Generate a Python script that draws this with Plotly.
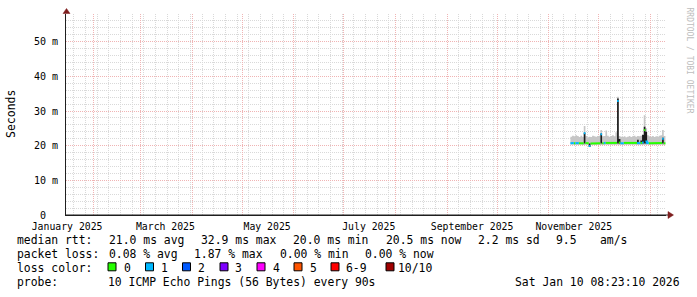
import plotly.graph_objects as go
import pandas as pd

# ---------------- data ----------------
x_start = "2025-01-15 08:23:10"
x_end = "2026-01-10 08:23:10"

days = pd.date_range("2025-11-14", periods=57, freq="D")

smoke_lo = [20.3, 20.3, 20.2, 20.3, 20.2, 20.3, 20.3, 20.2, 20.2, 20.3,
            20.2, 19.6, 20.2, 20.3, 20.2, 20.2, 20.3, 20.2, 20.2, 20.3,
            20.2, 20.3, 20.2, 20.3, 20.2, 20.3, 20.2, 20.3, 20.3, 20.2,
            20.3, 20.2, 20.3, 20.2, 20.3, 20.2, 20.3, 20.2, 20.3, 20.2,
            20.2, 20.3, 20.2, 20.2, 20.3, 20.2, 20.3, 20.2, 20.3, 20.2,
            20.3, 20.2, 20.3, 20.2, 20.3, 20.2, 20.3]
smoke_hi = [22.6, 22.9, 22.7, 23.0, 22.8, 22.5, 22.9, 22.6, 25.7, 22.8,
            22.4, 22.6, 22.5, 22.9, 22.7, 22.6, 22.8, 22.9, 24.5, 22.7,
            22.8, 24.4, 22.9, 22.6, 22.8, 23.0, 22.7, 23.9, 34.1, 22.8,
            22.6, 22.5, 22.7, 22.4, 22.6, 22.8, 22.5, 22.7, 22.9, 22.6,
            22.8, 22.7, 22.9, 23.4, 28.8, 25.0, 23.0, 22.7, 22.6, 22.8,
            22.5, 22.7, 22.6, 22.9, 23.0, 24.5, 22.8]
dark_lo = [20.6, 20.6, 20.6, 20.6, 20.6, 20.6, 20.6, 20.6, 20.6, 20.6,
           20.6, 19.6, 20.6, 20.6, 20.6, 20.6, 20.6, 20.6, 20.6, 20.6,
           20.6, 20.6, 20.6, 20.6, 20.6, 20.6, 20.6, 20.6, 20.6, 20.6,
           20.6, 20.6, 20.6, 20.6, 20.6, 20.6, 20.6, 20.6, 20.6, 20.6,
           20.6, 20.6, 20.6, 20.6, 20.6, 20.6, 20.6, 20.6, 20.6, 20.6,
           20.6, 20.6, 20.6, 20.6, 20.6, 20.6, 20.6]
dark_hi = [20.6, 20.6, 20.6, 20.6, 20.6, 20.6, 20.6, 20.6, 23.7, 20.6,
           20.6, 20.6, 20.6, 20.6, 20.6, 20.6, 20.6, 20.6, 23.5, 20.6,
           20.6, 20.6, 20.6, 20.6, 20.6, 20.6, 20.6, 20.6, 33.6, 21.9,
           20.6, 20.6, 20.6, 20.6, 20.6, 20.6, 20.6, 20.6, 20.6, 20.6,
           21.7, 20.6, 21.5, 23.1, 25.5, 24.0, 20.6, 20.6, 20.6, 20.6,
           20.6, 20.6, 20.6, 20.6, 20.6, 22.3, 20.6]
median = [20.7, 20.8, 20.7, 20.7, 20.8, 20.7, 20.8, 20.7, 23.6, 20.8,
          20.7, 19.9, 20.6, 20.7, 20.7, 20.8, 20.7, 20.7, 23.3, 20.7,
          20.8, 20.8, 20.7, 20.7, 20.7, 20.8, 20.7, 20.8, 32.9, 20.9,
          20.7, 20.7, 20.8, 20.7, 20.7, 20.7, 20.8, 20.7, 20.7, 20.8,
          20.8, 20.7, 20.8, 20.9, 24.5, 21.2, 20.8, 20.7, 20.7, 20.8,
          20.7, 20.7, 20.8, 20.7, 20.8, 22.0, 20.7]
loss = [1, 1, 0, 1, 1, 0, 0, 0, 1, 0,
        0, 1, 0, 0, 0, 0, 0, 0, 1, 0,
        1, 0, 0, 0, 0, 0, 0, 0, 1, 0,
        1, 1, 0, 0, 0, 0, 0, 0, 0, 0,
        1, 1, 0, 1, 0, 1, 1, 0, 0, 0,
        0, 0, 0, 0, 0, 1, 0]

loss_levels = [0, 1, 2, 3, 4, 5, 6, 10]
loss_labels = ["0", "1", "2", "3", "4", "5", "6-9", "10/10"]
loss_colors = ["#26ff00", "#00b8ff", "#0059ff", "#7e00ff",
               "#ff00ff", "#ff5500", "#ff0000", "#a00000"]

y_tickvals = [0, 10, 20, 30, 40, 50]
y_ticktext = ["0\u00a0\u00a0", "10 m", "20 m", "30 m", "40 m", "50 m"]
y_max = 58

label_dates = ["2025-01-16", "2025-03-16", "2025-05-16",
               "2025-07-16", "2025-09-16", "2025-11-16"]
label_text = ["January 2025", "March 2025", "May 2025",
              "July 2025", "September 2025", "November 2025"]
month_starts = ["2025-02-01", "2025-03-01", "2025-04-01", "2025-05-01",
                "2025-06-01", "2025-07-01", "2025-08-01", "2025-09-01",
                "2025-10-01", "2025-11-01", "2025-12-01", "2026-01-01"]

rtt_items = ["median rtt:", "21.0 ms avg", "32.9 ms max", "20.0 ms min",
             "20.5 ms now", "2.2 ms sd", "9.5", "am/s"]
loss_items = ["packet loss:", "0.08 % avg", "1.87 % max", "0.00 % min",
              "0.00 % now"]
color_title = "loss color:"
probe_items = ["probe:", "10 ICMP Echo Pings (56 Bytes) every 90s"]
stamp = "Sat Jan 10 08:23:10 2026"

# ---------------- layout geometry ----------------
W, H = 697, 297
L, R, T, B = 66, 31, 14, 82
PW = W - L - R
PH = H - T - B
MONO = "DejaVu Sans Mono"


def px(xp):
    return (xp - L) / PW


def py(yp):
    return (T + PH - yp) / PH


def nb(s):
    return s.replace(" ", "\u00a0")


one_day = pd.Timedelta(days=1)
edges = list(days) + [days[-1] + one_day]


def ext(a):
    return list(a) + [a[-1]]


fig = go.Figure()

# smoke (light) band
fig.add_trace(go.Scatter(x=edges, y=ext(smoke_lo), mode="lines",
                         line=dict(width=0, shape="hv"), hoverinfo="skip",
                         showlegend=False))
fig.add_trace(go.Scatter(x=edges, y=ext(smoke_hi), mode="lines",
                         line=dict(width=0, shape="hv"), fill="tonexty",
                         fillcolor="#c6c6c6", hoverinfo="skip",
                         showlegend=False))
# dark smoke core
fig.add_trace(go.Scatter(x=edges, y=ext(dark_lo), mode="lines",
                         line=dict(width=0, shape="hv"), hoverinfo="skip",
                         showlegend=False))
fig.add_trace(go.Scatter(x=edges, y=ext(dark_hi), mode="lines",
                         line=dict(width=0, shape="hv"), fill="tonexty",
                         fillcolor="#1c1c1c", hoverinfo="skip",
                         showlegend=False))


def level_of(n):
    if 6 <= n <= 9:
        return 6
    return n


for lvl, col in zip(loss_levels, loss_colors):
    xs, ys = [], []
    for i, d in enumerate(days):
        if level_of(loss[i]) != lvl:
            continue
        xs += [d, d + one_day]
        ys += [median[i], median[i]]
        nxt = level_of(loss[i + 1]) if i + 1 < len(days) else None
        if nxt != lvl:
            xs.append(None)
            ys.append(None)
    if xs:
        fig.add_trace(go.Scatter(x=xs, y=ys, mode="lines",
                                 line=dict(color=col, width=2),
                                 connectgaps=False, hoverinfo="skip",
                                 showlegend=False))

# dummy trace for the month-start grid axis
fig.add_trace(go.Scatter(x=[x_start, x_end], y=[0, 0], xaxis="x2",
                         mode="lines", line=dict(width=0), opacity=0,
                         hoverinfo="skip", showlegend=False))

minor_grid = "#d9d9d9"
major_grid = "#f0b4b4"
axis_col = "#1f1f1f"
arrow_col = "#7f1f1f"

fig.update_layout(
    width=W, height=H,
    margin=dict(l=L, r=R, t=T, b=B, pad=0),
    paper_bgcolor="white", plot_bgcolor="white",
    font=dict(family=MONO, color="black", size=10),
    showlegend=False,
    xaxis=dict(
        type="date", range=[x_start, x_end],
        tickmode="array", tickvals=label_dates, ticktext=label_text,
        showgrid=False, zeroline=False,
        showline=True, linecolor=axis_col, linewidth=1,
        ticks="", tickfont=dict(family=MONO, size=9.8, color="black"),
        ticklabelstandoff=2,
        minor=dict(tickmode="linear", tick0="2025-01-13",
                   dtick=7 * 86400000, showgrid=True,
                   gridcolor=minor_grid, griddash="1px,1px", gridwidth=1,
                   ticks=""),
        fixedrange=True,
    ),
    xaxis2=dict(
        type="date", range=[x_start, x_end], overlaying="x",
        side="bottom", tickmode="array", tickvals=month_starts,
        showticklabels=False, showgrid=True, gridcolor=major_grid,
        griddash="1px,1px", gridwidth=1, zeroline=False, ticks="",
        showline=False,
    ),
    yaxis=dict(
        range=[0, y_max], tickmode="array", tickvals=y_tickvals,
        ticktext=y_ticktext, showgrid=True, gridcolor=major_grid,
        griddash="1px,1px", gridwidth=1, zeroline=False,
        showline=True, linecolor=axis_col, linewidth=1,
        ticks="", tickfont=dict(family=MONO, size=10, color="black"),
        ticklabelstandoff=5,
        minor=dict(tickmode="linear", tick0=0, dtick=2, showgrid=True,
                   gridcolor=minor_grid, griddash="1px,1px", gridwidth=1,
                   ticks=""),
        fixedrange=True,
    ),
)

shapes = []
# axis arrows
shapes.append(dict(type="path", xref="paper", yref="paper",
                   path=f"M {px(66)} {py(215)} L {px(672.5)} {py(215)}",
                   line=dict(color=axis_col, width=1)))
shapes.append(dict(type="path", xref="paper", yref="paper",
                   path=(f"M {px(668)} {py(211.5)} L {px(673.5)} {py(215)} "
                         f"L {px(668)} {py(218.5)} Z"),
                   fillcolor=arrow_col, line=dict(color=arrow_col, width=0.5)))
shapes.append(dict(type="path", xref="paper", yref="paper",
                   path=(f"M {px(63)} {py(13.5)} L {px(66.5)} {py(8.5)} "
                         f"L {px(70)} {py(13.5)} Z"),
                   fillcolor=arrow_col, line=dict(color=arrow_col, width=0.5)))

legend_font = dict(family=MONO, size=11.4, color="black")
annotations = []


def add_text(txt, xl, yc, anchor="left"):
    annotations.append(dict(text=nb(txt), xref="paper", yref="paper",
                            x=px(xl), y=py(yc), xanchor=anchor,
                            yanchor="middle", showarrow=False, borderpad=0,
                            font=legend_font))


row_y = [240.3, 254.0, 267.8, 281.6]

# legend colour boxes
box_left = [108, 145.5, 182.5, 220, 257, 294, 331, 386]
text_left = [122.5, 159.5, 197, 234, 271.5, 308.5, 345, 397]
box_top, box_size = 262.8, 8
for bl, tl, lab, col in zip(box_left, text_left, loss_labels, loss_colors):
    shapes.append(dict(type="rect", xref="paper", yref="paper",
                       x0=px(bl), x1=px(bl + box_size),
                       y0=py(box_top + box_size), y1=py(box_top),
                       fillcolor=col, line=dict(color="black", width=1)))
    add_text(lab, tl, row_y[2])

rtt_x = [15.5, 107.5, 199.5, 292, 384.5, 476.5, 555, 598.5]
for txt, xx in zip(rtt_items, rtt_x):
    add_text(txt, xx, row_y[0])
loss_x = [15.5, 107.5, 193, 278.5, 363.5]
for txt, xx in zip(loss_items, loss_x):
    add_text(txt, xx, row_y[1])
add_text(color_title, 15.5, row_y[2])
for txt, xx in zip(probe_items, [15.5, 107]):
    add_text(txt, xx, row_y[3])
add_text(stamp, 681, row_y[3], anchor="right")

annotations.append(dict(text="Seconds", xref="paper", yref="paper",
                        x=px(11), y=py(114), xanchor="center",
                        yanchor="middle", textangle=-90, showarrow=False,
                        borderpad=0, font=dict(family=MONO, size=11.5,
                                               color="black")))
annotations.append(dict(text=nb("RRDTOOL / TOBI OETIKER"), xref="paper",
                        yref="paper", x=px(688.5), y=py(60),
                        xanchor="center", yanchor="middle", textangle=90,
                        showarrow=False, borderpad=0,
                        font=dict(family=MONO, size=8, color="#bdbdbd")))

fig.update_layout(shapes=shapes, annotations=annotations)

fig.write_html("out.html", config={"displayModeBar": False})
